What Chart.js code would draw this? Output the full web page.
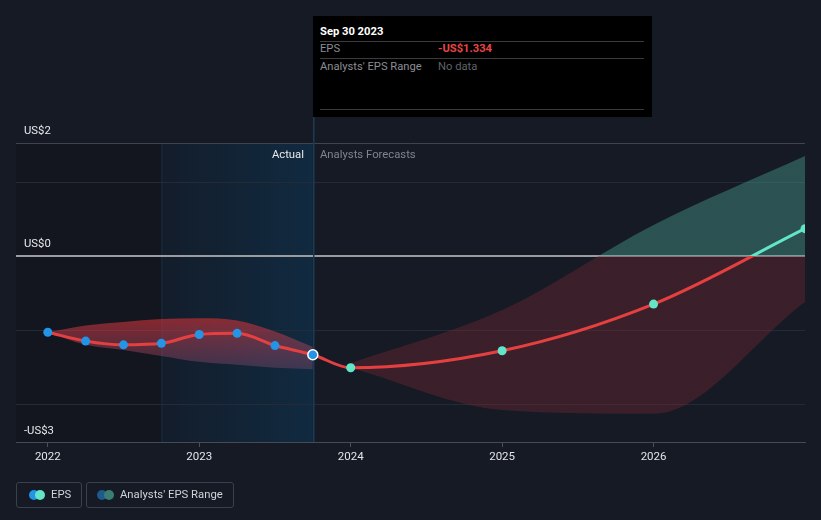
<!DOCTYPE html>
<html>
<head>
<meta charset="utf-8">
<script src="https://cdn.jsdelivr.net/npm/chart.js@4/dist/chart.umd.min.js"></script>
<style>
  html, body { margin:0; padding:0; background:#151a25; width:821px; height:520px; overflow:hidden; font-family: Roboto, "Noto Sans", sans-serif; }
  #wrap { position:absolute; left:0; top:0; width:821px; height:520px; }
  canvas { position:absolute; left:0; top:0; }
  .lbl { position:absolute; font-size:11.3px; line-height:14px; white-space:nowrap; }
  #tip { position:absolute; left:313px; top:16px; width:339px; height:101px; background:#000; }
  #tip .t { position:absolute; font-size:11.2px; line-height:14px; white-space:nowrap; }
  #tip .sep { position:absolute; left:7px; width:324px; height:1px; background:#3b3b3b; }
  .leg { position:absolute; top:482px; height:26px; border:1px solid #3a404c; border-radius:3px; box-sizing:border-box; }
  .dot { position:absolute; width:10px; height:10px; border-radius:50%; top:7px; }
  .leg span.txt { position:absolute; top:5px; font-size:11.3px; line-height:14px; color:#d0d3d8; white-space:nowrap; }
</style>
</head>
<body>
<div id="wrap">
  <canvas id="c" width="821" height="520"></canvas>
  <div id="tip">
    <div class="t" style="left:7px;top:9px;color:#fff;font-weight:bold;">Sep 30 2023</div>
    <div class="sep" style="top:25px;"></div>
    <div class="t" style="left:7px;top:26px;color:#8a8d93;">EPS</div>
    <div class="t" style="left:125px;top:26px;color:#e84545;font-weight:bold;">-US$1.334</div>
    <div class="sep" style="top:42px;"></div>
    <div class="t" style="left:7px;top:44px;color:#8a8d93;">Analysts' EPS Range</div>
    <div class="t" style="left:125px;top:44px;color:#5f6268;">No data</div>
    <div class="sep" style="top:93px;"></div>
  </div>
  <div class="lbl" style="left:24px;top:124px;color:#e8e9eb;">US$2</div>
  <div class="lbl" style="left:24px;top:237px;color:#e8e9eb;">US$0</div>
  <div class="lbl" style="left:24px;top:424px;color:#e8e9eb;">-US$3</div>
  <div class="lbl" style="right:517px;top:148px;color:#e8e9eb;">Actual</div>
  <div class="lbl" style="left:320px;top:148px;color:#80848b;">Analysts Forecasts</div>
  <div class="leg" style="left:16px;width:66px;">
    <div class="dot" style="left:12px;background:#2394e6;"></div>
    <div class="dot" style="left:18px;background:#63e6c8;"></div>
    <span class="txt" style="left:34px;">EPS</span>
  </div>
  <div class="leg" style="left:86px;width:148px;">
    <div class="dot" style="left:10px;background:#1f5a8c;"></div>
    <div class="dot" style="left:17px;background:#3b7d74;"></div>
    <span class="txt" style="left:33px;">Analysts' EPS Range</span>
  </div>
</div>
<script>
// ---- data ----
const epsYears   = [2022.0, 2022.25, 2022.5, 2022.75, 2023.0, 2023.25, 2023.5, 2023.75, 2024.0, 2025.0, 2026.0, 2027.0];
const epsValues  = [-1.03, -1.15, -1.20, -1.18, -1.06, -1.045, -1.21, -1.334, -1.51, -1.28, -0.65, 0.37];
const actualCount = 8;

const pastRangeYears = [2022.0, 2022.25, 2022.5, 2022.75, 2023.0, 2023.25, 2023.5, 2023.75];
const pastRangeHigh  = [-1.03, -0.94, -0.89, -0.85, -0.84, -0.87, -1.02, -1.23];
const pastRangeLow   = [-1.03, -1.20, -1.27, -1.35, -1.43, -1.47, -1.51, -1.53];

const fcRangeYears = [2024.0, 2025.0, 2026.0, 2027.0];
const fcRangeHigh  = [-1.45, -0.73, 0.42, 1.35];
const fcRangeLow   = [-1.51, -2.08, -2.13, -0.62];

const xTickYears = [2022, 2023, 2024, 2025, 2026];
const yGridValues = [-2, -1, 0, 1];
const xMin = 2021.79, xMax = 2027.0;
const yMin = -2.513, yMax = 1.527;
const pastStart = 2022.75, actualEnd = 2023.75;

// ---- helpers ----
const toXY = (xs, ys) => xs.map((x, i) => ({x: x, y: ys[i]}));
const RED = '#e5403f', TEAL = '#63e6c8';

function splitGradient(ctx, above, below) {
  const chart = ctx.chart;
  const area = chart.chartArea;
  if (!area) return below;
  const y0 = chart.scales.y.getPixelForValue(0);
  const g = chart.ctx.createLinearGradient(0, area.top, 0, area.bottom);
  const s = Math.min(1, Math.max(0, (y0 - area.top) / (area.bottom - area.top)));
  g.addColorStop(0, above); g.addColorStop(s, above);
  g.addColorStop(s, below); g.addColorStop(1, below);
  return g;
}
function pastGradient(ctx) {
  const chart = ctx.chart;
  const area = chart.chartArea;
  if (!area) return 'rgba(200,50,55,0.45)';
  const y = chart.scales.y;
  const g = chart.ctx.createLinearGradient(0, y.getPixelForValue(-0.84), 0, y.getPixelForValue(-1.53));
  g.addColorStop(0, 'rgba(210,48,52,0.62)');
  g.addColorStop(1, 'rgba(150,85,125,0.32)');
  return g;
}

const bgPlugin = {
  id: 'bg',
  beforeDraw(chart) {
    const {ctx, chartArea: a, scales: {x}} = chart;
    const xp = x.getPixelForValue(pastStart), xa = x.getPixelForValue(actualEnd);
    ctx.save();
    ctx.fillStyle = '#13161e';
    ctx.fillRect(a.left, a.top, xp - a.left, a.bottom - a.top);
    const g = ctx.createLinearGradient(xp, 0, xa, 0);
    g.addColorStop(0, '#131d2b');
    g.addColorStop(1, '#112a40');
    ctx.fillStyle = g;
    ctx.fillRect(xp, a.top, xa - xp, a.bottom - a.top);
    ctx.fillStyle = 'rgba(40,80,115,0.35)';
    ctx.fillRect(xp, a.top, 1, a.bottom - a.top);
    ctx.restore();
  },
  beforeDatasetsDraw(chart) {
    const {ctx, chartArea: a, scales: {x}} = chart;
    const xa = x.getPixelForValue(actualEnd);
    ctx.save();
    ctx.fillStyle = '#1d3a54';
    ctx.fillRect(Math.round(xa), 117, 1.5, a.bottom - 117);
    ctx.restore();
  }
};

Chart.defaults.font.family = 'Roboto, "Noto Sans", sans-serif';

new Chart(document.getElementById('c'), {
  type: 'line',
  data: {
    datasets: [
      {
        label: 'EPS',
        data: toXY(epsYears, epsValues),
        order: 0,
        borderColor: ctx => splitGradient(ctx, TEAL, RED),
        borderWidth: 3,
        cubicInterpolationMode: 'monotone',
        pointRadius: epsValues.map((v, i) => i === actualCount - 1 ? 5 : 4.5),
        pointBackgroundColor: epsValues.map((v, i) => i < actualCount ? '#2394e6' : TEAL),
        pointBorderColor: epsValues.map((v, i) => i === actualCount - 1 ? '#ffffff' : (i < actualCount ? '#2394e6' : TEAL)),
        pointBorderWidth: epsValues.map((v, i) => i === actualCount - 1 ? 1.5 : 0),
        fill: false
      },
      {
        label: 'pastLow',
        data: toXY(pastRangeYears, pastRangeLow),
        order: 2,
        borderWidth: 0, pointRadius: 0,
        cubicInterpolationMode: 'monotone',
        fill: false
      },
      {
        label: 'pastHigh',
        data: toXY(pastRangeYears, pastRangeHigh),
        order: 2,
        borderWidth: 0, pointRadius: 0,
        cubicInterpolationMode: 'monotone',
        fill: '-1',
        backgroundColor: pastGradient
      },
      {
        label: 'fcLow',
        data: toXY(fcRangeYears, fcRangeLow),
        order: 3,
        borderWidth: 0, pointRadius: 0,
        cubicInterpolationMode: 'monotone',
        fill: false
      },
      {
        label: 'fcHigh',
        data: toXY(fcRangeYears, fcRangeHigh),
        order: 3,
        borderWidth: 0, pointRadius: 0,
        cubicInterpolationMode: 'monotone',
        fill: '-1',
        backgroundColor: ctx => splitGradient(ctx, 'rgba(75,160,145,0.42)', 'rgba(120,40,52,0.38)')
      }
    ]
  },
  options: {
    responsive: false,
    animation: false,
    events: [],
    layout: { padding: { left: 16, right: 16, top: 143, bottom: 0 } },
    plugins: { legend: { display: false }, tooltip: { enabled: false } },
    scales: {
      x: {
        type: 'linear',
        min: xMin, max: xMax,
        afterBuildTicks: s => { s.ticks = xTickYears.map(v => ({ value: v })); },
        afterFit: s => { s.height = 78; },
        ticks: { color: '#e3e5e8', font: { size: 11.5 }, padding: 3, callback: v => String(v), autoSkip: false, maxRotation: 0 },
        grid: { display: true, drawOnChartArea: false, drawTicks: true, tickLength: 5, color: '#4a4f5a' },
        border: { display: true, color: '#454a55', width: 1 }
      },
      y: {
        type: 'linear',
        min: yMin, max: yMax,
        afterBuildTicks: s => { s.ticks = yGridValues.concat([yMax]).map(v => ({ value: v })); },
        afterFit: s => { s.width = 0; },
        ticks: { display: false },
        grid: {
          drawTicks: false,
          color: c => c.tick && c.tick.value === 0 ? '#9a9ca0' : (c.tick && c.tick.value === yMax ? '#40444d' : '#252b36'),
          lineWidth: c => c.tick && c.tick.value === 0 ? 2 : 1
        },
        border: { display: false }
      }
    }
  },
  plugins: [bgPlugin]
});
</script>
</body>
</html>
